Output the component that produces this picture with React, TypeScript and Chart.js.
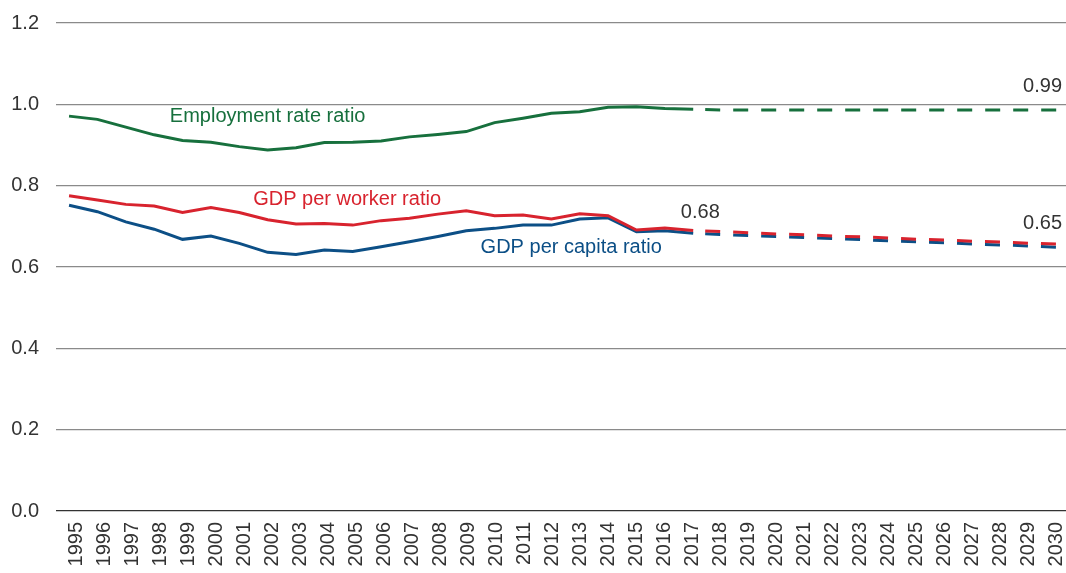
import React, { useEffect, useRef } from "react";
import { Chart, registerables } from "chart.js";

Chart.register(...registerables);

const years = [
  1995, 1996, 1997, 1998, 1999, 2000, 2001, 2002, 2003, 2004, 2005, 2006,
  2007, 2008, 2009, 2010, 2011, 2012, 2013, 2014, 2015, 2016, 2017, 2018,
  2019, 2020, 2021, 2022, 2023, 2024, 2025, 2026, 2027, 2028, 2029, 2030,
];

const employmentRateRatio = [
  0.971, 0.963, 0.944, 0.925, 0.911, 0.907, 0.896, 0.888, 0.893, 0.906, 0.907,
  0.91, 0.92, 0.926, 0.933, 0.955, 0.966, 0.978, 0.982, 0.993, 0.994, 0.99,
  0.988, 0.986, 0.986, 0.986, 0.986, 0.986, 0.986, 0.986, 0.986, 0.986, 0.986,
  0.986, 0.986, 0.986,
];

const gdpPerWorkerRatio = [
  0.775, 0.765, 0.754, 0.75, 0.734, 0.746, 0.734, 0.716, 0.706, 0.707, 0.703,
  0.714, 0.72, 0.73, 0.738, 0.726, 0.728, 0.718, 0.731, 0.726, 0.691, 0.696,
  0.69, 0.687, 0.684, 0.681, 0.679, 0.676, 0.674, 0.671, 0.668, 0.666, 0.663,
  0.661, 0.658, 0.656,
];

const gdpPerCapitaRatio = [
  0.752, 0.736, 0.711, 0.693, 0.668, 0.676, 0.658, 0.636, 0.631, 0.642, 0.638,
  0.65, 0.662, 0.675, 0.689, 0.695, 0.703, 0.703, 0.718, 0.721, 0.687, 0.689,
  0.683, 0.68, 0.677, 0.675, 0.672, 0.67, 0.667, 0.664, 0.662, 0.659, 0.656,
  0.654, 0.651, 0.648,
];

const lastActualYear = 2017;

const GREEN = "#17703d";
const RED = "#d8232e";
const BLUE = "#0c4f86";
const TEXT = "#333333";
const FONT = "'Liberation Sans', Arial, sans-serif";

const annotations = [
  { text: "Employment rate ratio", x: 2002.0, y: 0.969, color: GREEN, align: "center" },
  { text: "GDP per worker ratio", x: 2004.8, y: 0.765, color: RED, align: "center" },
  { text: "GDP per capita ratio", x: 2012.7, y: 0.647, color: BLUE, align: "center" },
  { text: "0.68", x: 2017.25, y: 0.733, color: TEXT, align: "center" },
  { text: "0.99", x: 2030, y: 1.043, color: TEXT, align: "right" },
  { text: "0.65", x: 2030, y: 0.708, color: TEXT, align: "right" },
];

const labelPlugin = {
  id: "textLabels",
  afterDatasetsDraw(chart: any) {
    const { ctx, scales } = chart;
    ctx.save();
    ctx.font = `20px ${FONT}`;
    ctx.textBaseline = "middle";
    for (const a of annotations) {
      ctx.fillStyle = a.color;
      ctx.textAlign = a.align as CanvasTextAlign;
      ctx.fillText(a.text, scales.x.getPixelForValue(a.x), scales.y.getPixelForValue(a.y));
    }
    ctx.restore();
  },
};

function series(values: number[], color: string) {
  const splitIndex = years.indexOf(lastActualYear);
  return {
    data: years.map((yr, i) => ({ x: yr, y: values[i] })),
    xAxisID: "x",
    borderColor: color,
    backgroundColor: color,
    borderWidth: 3,
    pointRadius: 0,
    tension: 0,
    fill: false,
    segment: {
      borderDash: (c: any) => (c.p0DataIndex >= splitIndex ? [15, 13] : undefined),
      borderDashOffset: (c: any) => (c.p0DataIndex >= splitIndex ? 16 : 0),
    },
  };
}

export default function App() {
  const ref = useRef<HTMLCanvasElement | null>(null);
  useEffect(() => {
    if (!ref.current) return;
    const chart = new Chart(ref.current, {
      type: "line",
      data: {
        datasets: [
          series(gdpPerWorkerRatio, RED),
          series(gdpPerCapitaRatio, BLUE),
          series(employmentRateRatio, GREEN),
        ] as any,
      },
      options: {
        animation: false,
        responsive: false,
        maintainAspectRatio: false,
        layout: { padding: { top: 23, right: 0, bottom: 0, left: 0 } },
        plugins: { legend: { display: false }, tooltip: { enabled: false } },
        scales: {
          x: {
            type: "linear",
            display: false,
            min: 1994.54,
            max: 2030.14,
          },
          xl: {
            type: "linear",
            position: "bottom",
            min: 1994.286,
            max: 2030.357,
            grid: { display: false, drawTicks: false },
            border: { display: false },
            ticks: {
              stepSize: 1,
              includeBounds: false,
              autoSkip: false,
              minRotation: 90,
              maxRotation: 90,
              padding: 11,
              color: TEXT,
              font: { family: FONT, size: 20 },
              callback: (v: any) => (Number.isInteger(v) ? String(v) : ""),
            },
            afterFit: (s: any) => {
              s.height = 62;
              s.paddingLeft = 0;
              s.paddingRight = 0;
            },
          },
          y: {
            min: 0,
            max: 1.2,
            grid: {
              drawTicks: false,
              color: (c: any) => (c.tick && c.tick.value === 0 ? "#333333" : "#8a8a8a"),
              lineWidth: 1.2,
            },
            border: { display: false },
            ticks: {
              stepSize: 0.2,
              padding: 17,
              color: TEXT,
              font: { family: FONT, size: 20 },
              callback: (v: any) => Number(v).toFixed(1),
            },
            afterFit: (s: any) => {
              s.width = 56;
              s.paddingTop = 0;
              s.paddingBottom = 0;
            },
          },
        },
      } as any,
      plugins: [labelPlugin],
    });
    return () => chart.destroy();
  }, []);
  return (
    <div style={{ position: "fixed", left: 0, top: 0, width: 1066, height: 573, background: "#fff" }}>
      <canvas ref={ref} width={1066} height={573} style={{ display: "block" }} />
    </div>
  );
}
